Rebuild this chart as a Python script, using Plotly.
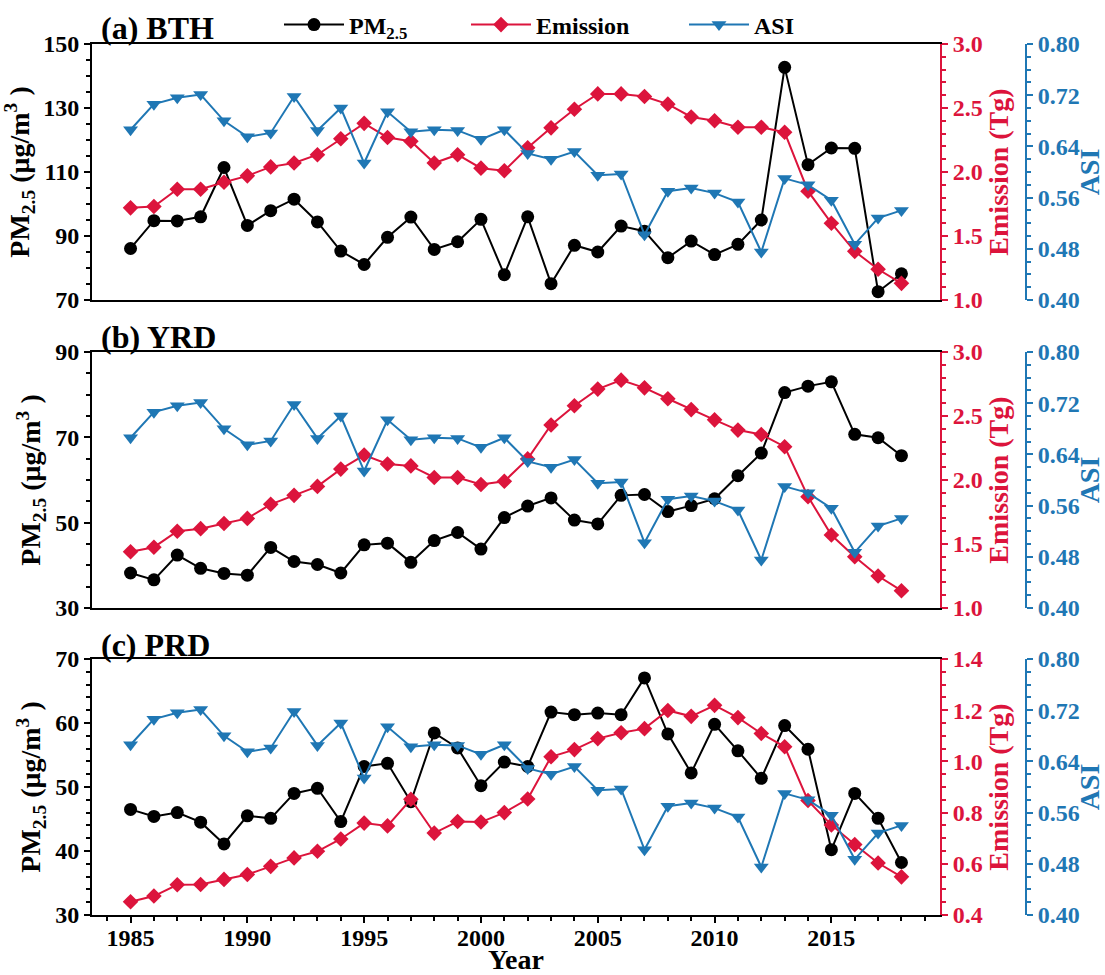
import plotly.graph_objects as go

# ---------------- data ----------------
years = list(range(1985, 2019))

pm_bth = [86.1, 94.8, 94.7, 96.0, 111.4, 93.3, 97.9, 101.5, 94.4, 85.3,
          81.1, 89.6, 95.9, 85.8, 88.2, 95.2, 77.9, 96.0, 75.1, 87.1,
          85.0, 93.1, 91.5, 83.2, 88.4, 84.2, 87.4, 95.0, 142.7, 112.3,
          117.5, 117.4, 72.6, 78.2]
emis_bth = [1.72, 1.73, 1.865, 1.865, 1.92, 1.97, 2.04, 2.07, 2.135, 2.26,
            2.38, 2.27, 2.24, 2.07, 2.135, 2.03, 2.01, 2.19, 2.345, 2.49,
            2.61, 2.61, 2.59, 2.53, 2.43, 2.40, 2.35, 2.35, 2.31, 1.85,
            1.60, 1.38, 1.24, 1.13]

pm_yrd = [38.2, 36.6, 42.4, 39.3, 38.1, 37.7, 44.2, 40.9, 40.2, 38.2,
          44.8, 45.2, 40.7, 45.8, 47.7, 43.8, 51.2, 53.9, 55.8, 50.6,
          49.7, 56.4, 56.6, 52.6, 54.0, 55.6, 61.0, 66.3, 80.5, 82.0,
          83.0, 70.7, 69.9, 65.7]
emis_yrd = [1.44, 1.475, 1.60, 1.62, 1.66, 1.70, 1.81, 1.88, 1.95, 2.085,
            2.195, 2.125, 2.11, 2.02, 2.02, 1.965, 1.99, 2.165, 2.43, 2.58,
            2.71, 2.78, 2.72, 2.635, 2.55, 2.47, 2.39, 2.355, 2.26, 1.87,
            1.57, 1.40, 1.25, 1.135]

pm_prd = [46.5, 45.4, 46.0, 44.5, 41.1, 45.5, 45.1, 49.0, 49.8, 44.6,
          53.2, 53.7, 47.7, 58.45, 56.1, 50.2, 53.9, 53.2, 61.7, 61.3,
          61.55, 61.3, 67.05, 58.3, 52.2, 59.8, 55.65, 51.35, 59.6, 55.9,
          40.2, 49.0, 45.1, 38.2]
emis_prd = [0.452, 0.474, 0.518, 0.519, 0.539, 0.558, 0.590, 0.623, 0.649, 0.697,
            0.759, 0.748, 0.852, 0.720, 0.765, 0.763, 0.800, 0.853, 1.018, 1.046,
            1.089, 1.112, 1.128, 1.199, 1.176, 1.219, 1.171, 1.109, 1.057, 0.847,
            0.752, 0.675, 0.603, 0.549]

asi = [0.666, 0.706, 0.716, 0.721, 0.680, 0.655, 0.661, 0.718, 0.665, 0.700,
       0.614, 0.694, 0.663, 0.666, 0.665, 0.651, 0.666, 0.629, 0.620, 0.632,
       0.595, 0.597, 0.502, 0.570, 0.575, 0.567, 0.553, 0.475, 0.590, 0.580,
       0.556, 0.487, 0.528, 0.540]

panel_labels = ["(a) BTH", "(b) YRD", "(c) PRD"]
pm_series = [pm_bth, pm_yrd, pm_prd]
emis_series = [emis_bth, emis_yrd, emis_prd]
pm_ranges = [[70, 150], [30, 90], [30, 70]]
pm_dticks = [20, 20, 10]
pm_minor = [5, 5, 2]
emis_ranges = [[1.0, 3.0], [1.0, 3.0], [0.4, 1.4]]
emis_dticks = [0.5, 0.5, 0.2]
emis_minor = [0.1, 0.1, 0.05]
asi_range = [0.40, 0.80]

# ---------------- style ----------------
BLACK = "black"
RED = "#DC143C"
BLUE = "#1F77B4"
FAM = "Liberation Serif, Times New Roman, serif"
TICK = 24
TITLE = 28

W, H = 1105, 975
ML, MR, MT, MB = 92, 0, 44, 60
PW, PH = W - ML - MR, H - MT - MB

def px_x(px):
    return (px - ML) / PW

def px_y(py):
    return 1 - (py - MT) / PH

x_dom = [0, px_x(940)]
asi_pos = px_x(1026)
panel_px = [(44, 300), (352, 608), (659, 915)]
y_doms = [[max(0.0, px_y(b)), min(1.0, px_y(t))] for t, b in panel_px]
label_y = [px_y(28), px_y(337), px_y(645)]

fig = go.Figure()
layout = {}

for i in range(3):
    xn = "x" if i == 0 else f"x{i+1}"
    xk = "xaxis" if i == 0 else f"xaxis{i+1}"
    a1, a2, a3 = 3 * i + 1, 3 * i + 2, 3 * i + 3
    y1n = "y" if a1 == 1 else f"y{a1}"
    y1k = "yaxis" if a1 == 1 else f"yaxis{a1}"

    fig.add_trace(go.Scatter(
        x=years, y=pm_series[i], xaxis=xn, yaxis=y1n, mode="lines+markers",
        line=dict(color=BLACK, width=2), marker=dict(symbol="circle", size=13, color=BLACK),
        name="PM<sub>2.5</sub>", legend="legend", showlegend=(i == 0)))
    fig.add_trace(go.Scatter(
        x=years, y=emis_series[i], xaxis=xn, yaxis=f"y{a2}", mode="lines+markers",
        line=dict(color=RED, width=2), marker=dict(symbol="diamond", size=12, color=RED),
        name="Emission", legend="legend2", showlegend=(i == 0)))
    fig.add_trace(go.Scatter(
        x=years, y=asi, xaxis=xn, yaxis=f"y{a3}", mode="lines+markers",
        line=dict(color=BLUE, width=2), marker=dict(symbol="triangle-down", size=13, color=BLUE),
        name="ASI", legend="legend3", showlegend=(i == 0)))

    last = (i == 2)
    layout[xk] = dict(
        domain=x_dom, range=[1983.35, 2019.65], anchor=y1n,
        showline=True, linecolor=BLACK, linewidth=2, mirror=True,
        showgrid=False, zeroline=False,
        ticks="outside" if last else "", ticklen=6, tickwidth=2, tickcolor=BLACK,
        tick0=1985, dtick=5, showticklabels=last, ticklabelstandoff=-6,
        tickfont=dict(family=FAM, size=TICK, color=BLACK, weight="bold"),
        minor=dict(ticks="outside" if last else "", dtick=1, tick0=1985, ticklen=4,
                   tickwidth=1.5, tickcolor=BLACK),
        title=dict(text="Year" if last else "", font=dict(family=FAM, size=TITLE, color=BLACK, weight="bold"),
                   standoff=4),
        automargin=False,
    )
    layout[y1k] = dict(
        domain=y_doms[i], range=pm_ranges[i], anchor=xn, side="left",
        showline=True, linecolor=BLACK, linewidth=2,
        showgrid=False, zeroline=False,
        ticks="outside", ticklen=6, tickwidth=2, tickcolor=BLACK,
        tick0=pm_ranges[i][0], dtick=pm_dticks[i],
        tickfont=dict(family=FAM, size=TICK, color=BLACK, weight="bold"),
        minor=dict(ticks="outside", dtick=pm_minor[i], ticklen=4, tickwidth=1.5, tickcolor=BLACK),
        title=dict(text="PM<sub>2.5</sub> (μg/m<sup>3</sup> )",
                   font=dict(family=FAM, size=TITLE, color=BLACK, weight="bold"), standoff=6),
        automargin=False,
    )
    layout[f"yaxis{a2}"] = dict(
        overlaying=y1n, anchor=xn, side="right", range=emis_ranges[i],
        showline=True, linecolor=RED, linewidth=2,
        showgrid=False, zeroline=False,
        ticks="outside", ticklen=6, tickwidth=2, tickcolor=RED,
        tick0=emis_ranges[i][0], dtick=emis_dticks[i], tickformat=".1f",
        tickfont=dict(family=FAM, size=TICK, color=RED, weight="bold"),
        minor=dict(ticks="outside", dtick=emis_minor[i], ticklen=4, tickwidth=1.5, tickcolor=RED),
        title=dict(text="Emission (Tg)", font=dict(family=FAM, size=TITLE, color=RED, weight="bold"),
                   standoff=0),
        automargin=False,
    )
    layout[f"yaxis{a3}"] = dict(
        overlaying=y1n, anchor="free", position=asi_pos, side="right", range=asi_range,
        showline=True, linecolor=BLUE, linewidth=2,
        showgrid=False, zeroline=False,
        ticks="outside", ticklen=6, tickwidth=2, tickcolor=BLUE,
        tick0=0.40, dtick=0.08, tickformat=".2f",
        tickfont=dict(family=FAM, size=TICK, color=BLUE, weight="bold"),
        minor=dict(ticks="outside", dtick=0.02, ticklen=4, tickwidth=1.5, tickcolor=BLUE),
        title=dict(text="ASI", font=dict(family=FAM, size=TITLE, color=BLUE, weight="bold"),
                   standoff=0),
        automargin=False,
    )

leg_common = dict(y=px_y(25), xanchor="left", yanchor="middle", orientation="h",
                  itemwidth=60, bgcolor="rgba(0,0,0,0)", borderwidth=0,
                  font=dict(family=FAM, size=24, color=BLACK, weight="bold"))
layout["legend"] = dict(x=px_x(279), **leg_common)
layout["legend2"] = dict(x=px_x(466), **leg_common)
layout["legend3"] = dict(x=px_x(684), **leg_common)

annotations = []
for i in range(3):
    annotations.append(dict(
        text=panel_labels[i], xref="paper", yref="paper", x=px_x(99), y=label_y[i],
        xanchor="left", yanchor="middle", showarrow=False,
        font=dict(family=FAM, size=32, color=BLACK, weight="bold")))

fig.update_layout(
    width=W, height=H, template="none",
    margin=dict(l=ML, r=MR, t=MT, b=MB, pad=0),
    paper_bgcolor="white", plot_bgcolor="white",
    annotations=annotations,
    **layout,
)

fig.write_html("out.html", config={"displayModeBar": False},
               post_script="document.body.style.margin='0';")
